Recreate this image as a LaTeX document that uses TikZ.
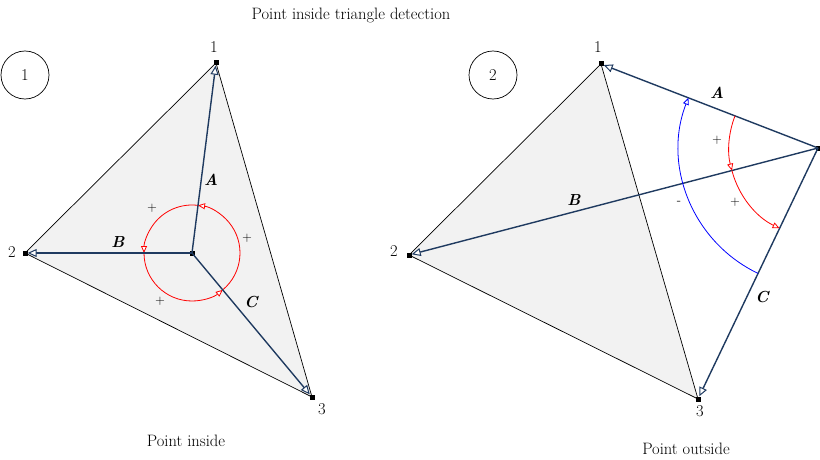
\documentclass[tikz,border=0pt]{standalone}
\usetikzlibrary{arrows.meta}
\definecolor{navy}{HTML}{1F3A60}
\definecolor{trifill}{HTML}{F2F2F2}
\begin{document}
\begin{tikzpicture}[x=1pt,y=1pt,
  every node/.style={font=\fontsize{16.5}{19}\selectfont},
  dot/.style={fill=black,minimum size=5pt,inner sep=0pt},
  tri/.style={draw=black,fill=trifill,line width=0.7pt,line join=round},
  vec/.style={draw=navy,line width=1.4pt,-{Triangle[open,fill=white,length=9pt,width=8pt,line width=1pt]}},
  redarc/.style={draw=red,line width=0.8pt,-{Triangle[open,fill=white,length=7pt,width=6pt]}},
  bluearc/.style={draw=blue,line width=0.8pt,-{Triangle[open,fill=white,length=7pt,width=6pt]}},
  lab/.style={font=\fontsize{16}{19}\selectfont\bfseries\itshape},
  sign/.style={font=\fontsize{13}{15}\selectfont},
  badge/.style={draw,circle,minimum size=48pt,inner sep=0pt,line width=0.7pt}]
\useasboundingbox (0,0) rectangle (820,459);

\node (title) at (351,444) {Point inside triangle detection};

% ---------- left ----------
\node[badge] (b1) at (25,384) {1};
\coordinate (L1) at (216,396);
\coordinate (L2) at (25,206);
\coordinate (L3) at (312,62);
\filldraw[tri] (L1) -- (L2) -- (L3) -- cycle;
\node[dot] (lp) at (192,206) {};
\draw[redarc] ([shift={(82.8:48)}]lp.center) arc[start angle=82.8,end angle=180,radius=48];
\draw[redarc] ([shift={(180:48)}]lp.center) arc[start angle=180,end angle=309.8,radius=48];
\draw[redarc] ([shift={(309.8:48)}]lp.center) arc[start angle=309.8,end angle=442.8,radius=48];
\node[dot] (l1) at (L1) {};
\node[dot] (l2) at (L2) {};
\node[dot] (l3) at (L3) {};
\draw[vec] (lp.center) -- (l1);
\draw[vec] (lp.center) -- (l2);
\draw[vec] (lp.center) -- (l3);
\node (n1) at (214,412) {1};
\node (n2) at (12,207) {2};
\node (n3) at (322,50) {3};
\node[lab] (la) at (211,279) {A};
\node[lab] (lb) at (118,217) {B};
\node[lab] (lc) at (251,157) {C};
\node[sign] (pl1) at (152,251) {+};
\node[sign] (pl2) at (247,221) {+};
\node[sign] (pl3) at (160,158) {+};
\node (cap1) at (186,18) {Point inside};

% ---------- right ----------
\node[badge] (b2) at (493,384) {2};
\coordinate (R1) at (601,395);
\coordinate (R2) at (409,204);
\coordinate (R3) at (698,60);
\filldraw[tri] (R1) -- (R2) -- (R3) -- cycle;
\node[dot] (rp) at (818,311) {};
\node[dot] (r1) at (R1) {};
\node[dot] (r2) at (R2) {};
\node[dot] (r3) at (R3) {};
\draw[vec] (rp.center) -- (r1);
\draw[vec] (rp.center) -- (r2);
\draw[vec] (rp.center) -- (r3);
\draw[bluearc] ([shift={(244.4:139)}]rp.center) arc[start angle=244.4,end angle=158.8,radius=139];
\draw[redarc] ([shift={(158.8:89)}]rp.center) arc[start angle=158.8,end angle=194.7,radius=89];
\draw[redarc] ([shift={(194.7:89)}]rp.center) arc[start angle=194.7,end angle=244.4,radius=89];
\node (m1) at (598,412) {1};
\node (m2) at (394,208) {2};
\node (m3) at (700,48) {3};
\node[lab] (ra) at (717,366) {A};
\node[lab] (rb) at (574,259) {B};
\node[lab] (rc) at (762,162) {C};
\node[sign] (pr1) at (717,319) {+};
\node[sign] (pr2) at (735,257) {+};
\node[sign] (mi) at (679,256) {-};
\node (cap2) at (686,10) {Point outside};
\end{tikzpicture}
\end{document}
